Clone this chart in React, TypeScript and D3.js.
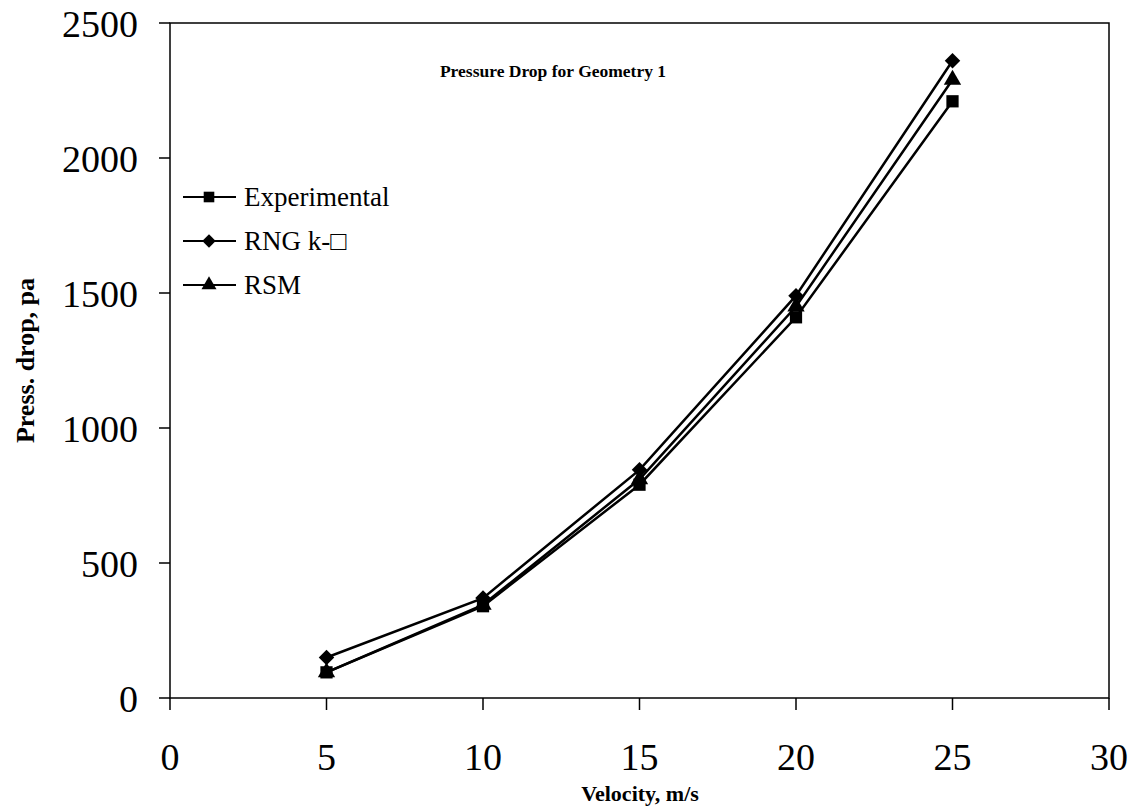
import React from 'react';
import * as d3 from 'd3';

const velocity = [5, 10, 15, 20, 25];
const experimental = [95, 340, 790, 1410, 2210];
const rngKe = [150, 370, 845, 1490, 2360];
const rsm = [95, 345, 810, 1450, 2290];
const xTicks = [0, 5, 10, 15, 20, 25, 30];
const yTicks = [0, 500, 1000, 1500, 2000, 2500];

const series = [
  { name: 'Experimental', values: experimental, symbol: d3.symbolSquare, size: 150, rotate: 0 },
  { name: 'RNG k-\u25A1', values: rngKe, symbol: d3.symbolSquare, size: 120, rotate: 45 },
  { name: 'RSM', values: rsm, symbol: d3.symbolTriangle, size: 130, rotate: 0 },
];

const W = 1140;
const H = 807;
const margin = { left: 170, right: 31, top: 23, bottom: 109 };
const font = '"Liberation Serif", "Times New Roman", serif';

export default function App() {
  const x = d3.scaleLinear().domain([0, 30]).range([margin.left, W - margin.right]);
  const y = d3.scaleLinear().domain([0, 2500]).range([H - margin.bottom, margin.top]);
  const line = d3.line<number>()
    .x((_, i) => x(velocity[i]))
    .y(d => y(d));

  return (
    <svg width={W} height={H} style={{ position: 'absolute', left: 0, top: 0, background: '#fff' }}
      fontFamily={font}>
      <rect x={x(0)} y={y(2500)} width={x(30) - x(0)} height={y(0) - y(2500)}
        fill="none" stroke="#000" strokeWidth={1.5} />

      {/* x axis ticks */}
      {xTicks.map(t => (
        <g key={'x' + t}>
          <line x1={x(t)} x2={x(t)} y1={y(0)} y2={y(0) + 12} stroke="#000" strokeWidth={1.5} />
          <text x={x(t)} y={770} textAnchor="middle" fontSize={38}>{t}</text>
        </g>
      ))}

      {/* y axis ticks */}
      {yTicks.map(t => (
        <g key={'y' + t}>
          <line x1={x(0) - 11} x2={x(0)} y1={y(t)} y2={y(t)} stroke="#000" strokeWidth={1.5} />
          <text x={138} y={y(t) + 14} textAnchor="end" fontSize={38}>{t}</text>
        </g>
      ))}

      <text x={640} y={801} textAnchor="middle" fontSize={22} fontWeight="bold">Velocity, m/s</text>
      <text transform={`translate(34, ${y(1250)}) rotate(-90)`} textAnchor="middle" fontSize={26}
        fontWeight="bold">Press. drop, pa</text>
      <text x={553} y={77} textAnchor="middle" fontSize={17.5} fontWeight="bold">Pressure Drop for Geometry 1</text>

      {series.map(s => (
        <g key={s.name}>
          <path d={line(s.values) ?? ''} fill="none" stroke="#000" strokeWidth={2.5} />
          {s.values.map((v, i) => (
            <path key={i} d={d3.symbol().type(s.symbol).size(s.size)() ?? ''}
              transform={`translate(${x(velocity[i])}, ${y(v)}) rotate(${s.rotate})`} fill="#000" />
          ))}
        </g>
      ))}

      {/* legend */}
      {series.map((s, i) => {
        const ly = 197 + i * 44;
        return (
          <g key={'lg' + s.name}>
            <line x1={183} x2={236} y1={ly} y2={ly} stroke="#000" strokeWidth={2} />
            <path d={d3.symbol().type(s.symbol).size(s.size * 0.75)() ?? ''}
              transform={`translate(209, ${ly}) rotate(${s.rotate})`} fill="#000" />
            <text x={244} y={ly + 9} fontSize={27}>{s.name}</text>
          </g>
        );
      })}
    </svg>
  );
}
